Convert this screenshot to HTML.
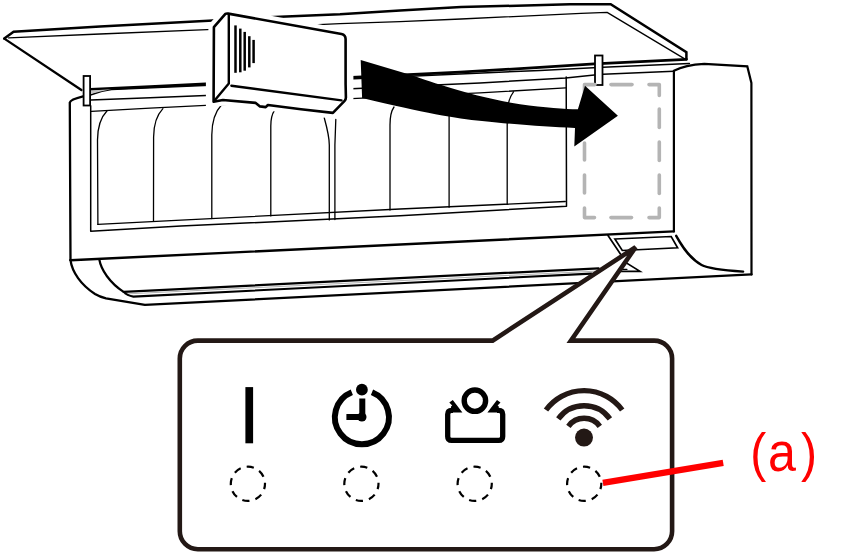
<!DOCTYPE html>
<html><head><meta charset="utf-8"><title>AC unit</title>
<style>
html,body{margin:0;padding:0;background:#fff;width:847px;height:557px;overflow:hidden}
svg{display:block}
</style></head><body>
<svg width="847" height="557" viewBox="0 0 847 557">
<g id="unit" fill="none" stroke="#000" stroke-linejoin="round" stroke-linecap="round">
  <!-- lid (open front panel) -->
  <path d="M4.3,38.6 L13.6,31.7 L100,26.4 L208.6,20.7 L274.4,17 L340,14.3 L400,10.5 L461,7.1 L570,4.3 L610.7,4.3 L686.4,52.1 L686.4,59.3" stroke-width="2.5" stroke-linejoin="miter"/>
  <path d="M8.6,37.9 L100,34 L207.1,29.7 L340,23.6 L400,21.6 L461,19 L581,13.4 L607.1,12.4 L684.3,58.6" stroke-width="1.3"/>
  <path d="M4.3,38.6 L81.4,90" stroke-width="2.3"/>
  <!-- hinge / lid bottom -->
  <path d="M90.4,89.3 L150,86.6 L205.8,84 L357,77.1 L460,72.1 L540,67.4 L594.3,63.8 L686.4,59.3" stroke-width="2.8"/>
  <path d="M90.4,95 Q100,91 111.4,89.6 L460,74 L540,70.4 L602.9,67.3 L689.4,63.5" stroke-width="1.5"/>
  <path d="M90.6,90.6 L111.4,89.2 Q100,91.2 90.6,94 Z" fill="#c4c4c4" stroke="none"/>
  <!-- body -->
  <path d="M70.5,260.2 L69.8,102.5 Q70.5,99.5 83.1,96.4" stroke-width="2.3"/>
  <path d="M90.7,100 L150,97.7 L205.8,95.6 L357,88.4 L480,82.9 L565.7,77.9 L594.3,75 L602.9,74.3 L673.9,71.2" stroke-width="1.5"/>
  <path d="M91.4,111.4 L150,108.2 L205.8,105.3 L357,98.3 L480,92.9 L565.7,87.9" stroke-width="1.3"/>
  <path d="M90.7,105.7 L90.7,231.2 L181,226.1 L400,215.7 L566.5,206.3 L566.2,77.1" stroke-width="1.5"/>
  <path d="M97.9,224.4 L181,220.1 L400,209 L565.3,201.5" stroke-width="1.3"/>
  <!-- filter panels -->
  <g stroke-width="1.3">
    <path d="M107.1,110.7 C101,117 97.6,126 97.5,140 L97.9,224.4"/>
    <path d="M162.9,108.6 C156.8,115 153.7,124 153.6,137 L153.5,220.8"/>
    <path d="M221.4,105 C215.3,111.5 211.9,121 211.8,135 L211.8,218.6"/>
    <path d="M274.4,110.6 C272,114 270.8,118 270.8,126 L270.8,215.9"/>
    <path d="M324.3,118 C326.5,126 329.3,136 329.3,145 L329.3,219.9"/>
    <path d="M335.8,119.5 L334.9,145 L334.9,219.6"/>
    <path d="M394,107 C391.5,110.5 390,115 390,125 L390,210.1"/>
    <path d="M449.1,110 L449.1,207.2"/>
    <path d="M513.5,91.8 C509.5,97 507.2,104 507.2,115 L507.2,204.4"/>
  </g>
  <!-- body bottom -->
  <path d="M70.5,260.2 L673.9,231.4" stroke-width="2.4"/>
  <path d="M70.5,260.2 C72,272 81,285 95,294 Q100,297 106,298.3 L144.9,304.9 L751.5,274.4" stroke-width="2.3"/>
  <path d="M99.2,259 C101,270 110,283 123.6,291.9 L598.6,268.3" stroke-width="2.2"/>
  <path d="M125,294 L595,271.2" stroke-width="0.9" stroke="#aaa"/>
  <path d="M123.6,291.9 Q127,295.5 133.4,296.6 L591.4,273.6" stroke-width="2.1"/>
  <!-- side panel -->
  <path d="M673.9,231.4 L673.9,70.8 Q685,65 704.3,63.9 L747.3,66.4 L751.4,82.9 L751.5,274.4" stroke-width="2.2" stroke-linejoin="miter"/>
  <path d="M676.2,235.8 C683,248 690,258.5 701.6,265 C707,268 720,270 743.1,271.6" stroke-width="2.4"/>
  <!-- display window -->
  <path d="M614.9,239 L671.2,236.5 L677.6,247.8 L622.3,250.5 Z" stroke-width="1.7" stroke-linejoin="miter"/>
  <path d="M608,235.6 L626.4,262.9 L640,271.4 L620.7,271.4" stroke-width="1.7" stroke-linejoin="miter"/>
  <path d="M617,269.3 L627,269.3" stroke-width="1.2"/>
  <!-- clips -->
  <rect x="83.6" y="76" width="6.5" height="29.5" fill="#fff" stroke-width="1.8" stroke-linejoin="miter"/>
  <rect x="595" y="55.5" width="7.5" height="29.5" fill="#fff" stroke-width="1.8" stroke-linejoin="miter"/>
</g>
<!-- dashed target box -->
<g stroke="#b4b4b4" stroke-width="3.6" fill="none" stroke-linecap="round" stroke-linejoin="round">
  <path d="M595,84.6 L584.5,84.6 L584.5,95"/>
  <path d="M611,84.6 L632,84.6"/>
  <path d="M649,84.6 L659.3,84.6 L659.3,95.5"/>
  <path d="M659.3,109 L659.3,127.5"/>
  <path d="M659.3,142 L659.3,160.5"/>
  <path d="M659.3,175 L659.3,193.5"/>
  <path d="M659.3,208 L659.3,217.6 L649,217.6"/>
  <path d="M631.5,217.6 L611,217.6"/>
  <path d="M594.5,217.6 L584.5,217.6 L584.5,208"/>
  <path d="M584.5,193 L584.5,175"/>
  <path d="M584.5,160 L584.5,143"/>
</g>
<!-- big arrow -->
<path d="M360.7,60 L404.3,72.9 L417,77 C440,85 480,98 520,104.2 C545,107.5 565,109 577.9,109.3 L585,85.7 L617.9,115.7 L574.3,146.4 L575,127.9 C548,126.8 522,125.2 482,121 C455,118.2 425,113 362.1,97.9 Z" fill="#000"/>
<!-- stubs between box and arrow -->
<g stroke="#000" fill="none">
</g>
<!-- filter box being inserted -->
<rect x="205.9" y="76" width="8" height="34" fill="#fff"/>
<rect x="346" y="70" width="7.4" height="34" fill="#fff"/>
<g stroke-linejoin="round" stroke-linecap="round">
  <path d="M213.9,27.2 L225.4,13.9 Q226.5,13.3 228.2,13.6 L341.5,34 Q345.6,35 345.6,39 L345.6,84 L345.9,97.5 Q345.9,99.5 344.6,100.8 L332.9,112.9 L301,109.3 L267.9,105 L265.7,107.1 L260,106.4 L255.7,102.9 L222.9,100 L213.6,101.7 Z" fill="#fff" stroke="#fff" stroke-width="11"/>
  <path d="M213.9,27.2 L225.4,13.9 Q226.5,13.3 228.2,13.6 L341.5,34 Q345.6,35 345.6,39 L345.6,84 L345.9,97.5 Q345.9,99.5 344.6,100.8 L332.9,112.9 L301,109.3 L267.9,105 L265.7,107.1 L260,106.4 L255.7,102.9 L222.9,100 L213.6,101.7 Z" fill="#fff" stroke="#000" stroke-width="2.6"/>
  <path d="M228.8,14.3 L228.8,83.6 L215,100" fill="none" stroke="#000" stroke-width="2.4"/>
  <path d="M231.4,85.7 L341.5,100.4" fill="none" stroke="#000" stroke-width="2.4"/>
  <g stroke="#000" stroke-width="2.5" stroke-linecap="butt">
    <path d="M235.5,25.4 L235.5,72.8"/>
    <path d="M240.3,28.6 L240.3,72.3"/>
    <path d="M244.7,31.9 L244.7,70.7"/>
    <path d="M249.3,36.2 L249.3,67.4"/>
    <path d="M253.6,39.9 L253.6,63.1"/>
  </g>
</g>
<!-- callout -->
<path d="M197.8,340.6 L492.6,340.6 L635.6,247.2 L570.9,340.6 L654.1,340.6 A18,18 0 0 1 672.1,358.6 L672.1,531.2 A18,18 0 0 1 654.1,549.2 L197.8,549.2 A18,18 0 0 1 179.8,531.2 L179.8,358.6 A18,18 0 0 1 197.8,340.6 Z" fill="#fff" stroke="#231815" stroke-width="4.6" stroke-linejoin="miter" stroke-miterlimit="4"/>
<!-- icons -->
<rect x="245.4" y="387.1" width="7.7" height="56.2" fill="#000"/>
<g>
  <path d="M351.8,392.2 A27,27 0 1 0 372,392.2" fill="none" stroke="#000" stroke-width="6"/>
  <circle cx="361.9" cy="389.7" r="5.9" fill="#000"/>
  <path d="M362.3,398.6 L362.3,417 L346.4,417" fill="none" stroke="#000" stroke-width="6" stroke-linejoin="miter"/>
  <circle cx="361.9" cy="417" r="4.6" fill="#000"/>
</g>
<g>
  <path d="M453,410.3 L451.7,410.3 Q447.7,410.3 447.7,414.3 L447.7,436.4 Q447.7,440.4 451.7,440.4 L498.7,440.4 Q502.7,440.4 502.7,436.4 L502.7,414.3 Q502.7,410.3 498.7,410.3 L497,410.3" fill="none" stroke="#000" stroke-width="5.3"/>
  <polygon points="449.3,402.6 452.8,399.9 462.4,412.6 451,412.6 451,406.5 452.2,405.6" fill="#000"/>
  <polygon points="500.5,402.6 497,399.9 487.4,412.6 498.8,412.6 498.8,406.5 497.6,405.6" fill="#000"/>
  <circle cx="474.9" cy="400.7" r="10.7" fill="none" stroke="#000" stroke-width="5.4"/>
</g>
<g fill="none" stroke="#231815" stroke-width="5.4">
  <path d="M546,410 A47.1,47.1 0 0 1 622.2,410"/>
  <path d="M558.3,418.95 A31.9,31.9 0 0 1 609.9,418.95"/>
  <path d="M568.4,426.3 A19.4,19.4 0 0 1 599.8,426.3"/>
</g>
<circle cx="584" cy="437.6" r="9" fill="#231815"/>
<!-- dashed LED circles -->
<g fill="none" stroke="#000" stroke-width="2.2" stroke-dasharray="7.3 6.13" stroke-dashoffset="1.8">
  <circle cx="247.9" cy="483.8" r="17.1"/>
  <circle cx="361.4" cy="483.8" r="17.1"/>
  <circle cx="474.7" cy="483.8" r="17.1"/>
  <circle cx="584.2" cy="483.8" r="17.1"/>
</g>
<!-- red leader + label -->
<path d="M602.9,482.9 L723.2,462.9" stroke="#ff0000" stroke-width="6.2" fill="none"/>
<g font-family="'Liberation Sans', sans-serif" font-size="54" fill="#ff0000">
  <text transform="translate(750.3,470.7) scale(0.89,1)">(</text>
  <text transform="translate(767.9,470.7) scale(0.93,1.025)">a</text>
  <text transform="translate(801,470.7) scale(0.89,1)">)</text>
</g>
</svg>
</body></html>
